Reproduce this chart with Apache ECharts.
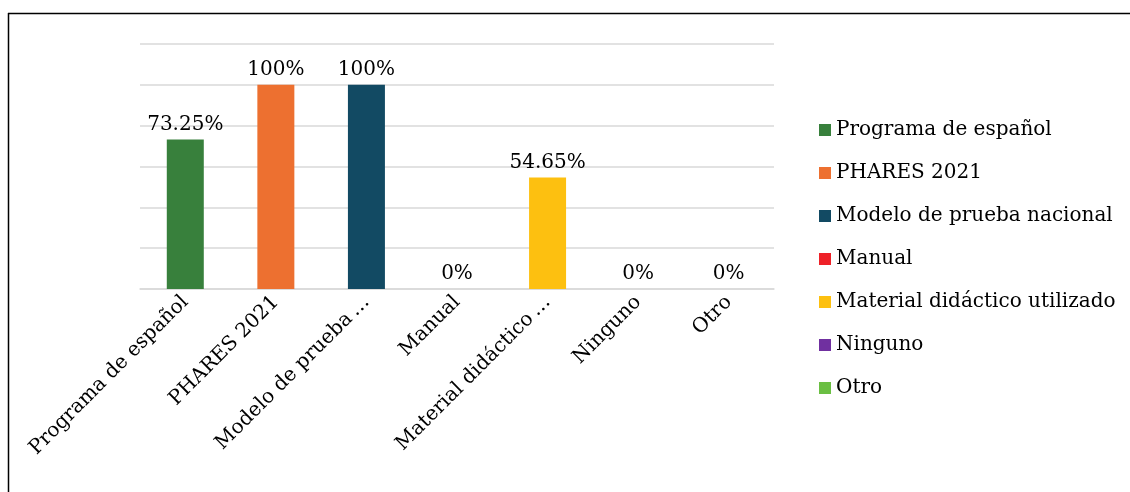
<!DOCTYPE html>
<html>
<head>
<meta charset="utf-8">
<script src="https://cdn.jsdelivr.net/npm/echarts@6/dist/echarts.min.js"></script>
<style>
html,body{margin:0;padding:0;background:#fff;}
#c{width:1130px;height:492px;}
</style>
</head>
<body>
<div id="c"></div>
<script>
var categories = ['Programa de español','PHARES 2021','Modelo de prueba nacional','Manual','Material didáctico utilizado','Ninguno','Otro'];
var axisLabels = ['Programa de español','PHARES 2021','Modelo de prueba\u2009…','Manual','Material didáctico\u2009…','Ninguno','Otro'];
var values = [73.25, 100, 100, 0, 54.65, 0, 0];
var valueLabels = ['73.25%','100%','100%','0%','54.65%','0%','0%'];
var colors = ['#38803C','#ED7030','#124A63','#EE2128','#FDC010','#7030A0','#6BBF43'];
var yTicks = [0,20,40,60,80,100,120];

var FONT = 'DejaVu Serif';
var series = categories.map(function(name, i){
  var d = categories.map(function(_, j){ return j === i ? values[i] : null; });
  return {
    name: name,
    type: 'bar',
    stack: 'all',
    barWidth: 37,
    itemStyle: {color: colors[i]},
    label: {
      show: true, position: 'top', distance: 5,
      fontFamily: FONT, fontSize: 20, color: '#000',
      formatter: function(p){ return valueLabels[p.dataIndex]; }
    },
    data: d
  };
});

var chart = echarts.init(document.getElementById('c'), null, {renderer:'canvas'});
chart.setOption({
  animation: false,
  backgroundColor: '#fff',
  graphic: [
    {type:'line', shape:{x1:8, y1:13.5, x2:1130, y2:13.5}, style:{stroke:'#000', lineWidth:1.5}},
    {type:'line', shape:{x1:8.5, y1:13, x2:8.5, y2:492}, style:{stroke:'#000', lineWidth:1.5}}
  ],
  grid: {left:140, right:356, top:44, bottom:203, containLabel:false},
  legend: {
    orient: 'vertical', left: 814, top: 115,
    itemWidth: 12, itemHeight: 12, itemGap: 23, icon: 'rect',
    textStyle: {fontFamily: FONT, fontSize: 20, color:'#000'},
    data: categories
  },
  xAxis: {
    type: 'category',
    data: axisLabels,
    axisLine: {show:true, lineStyle:{color:'#d9d9d9', width:1.5}},
    axisTick: {show:false},
    axisLabel: {rotate:45, interval:0, margin:10, fontFamily: FONT, fontSize:20, color:'#000'}
  },
  yAxis: {
    type: 'value', min: yTicks[0], max: yTicks[yTicks.length-1], interval: 20,
    axisLine:{show:false}, axisTick:{show:false}, axisLabel:{show:false},
    splitLine:{show:true, lineStyle:{color:'#d9d9d9', width:1.5}}
  },
  series: series
});
</script>
</body>
</html>
